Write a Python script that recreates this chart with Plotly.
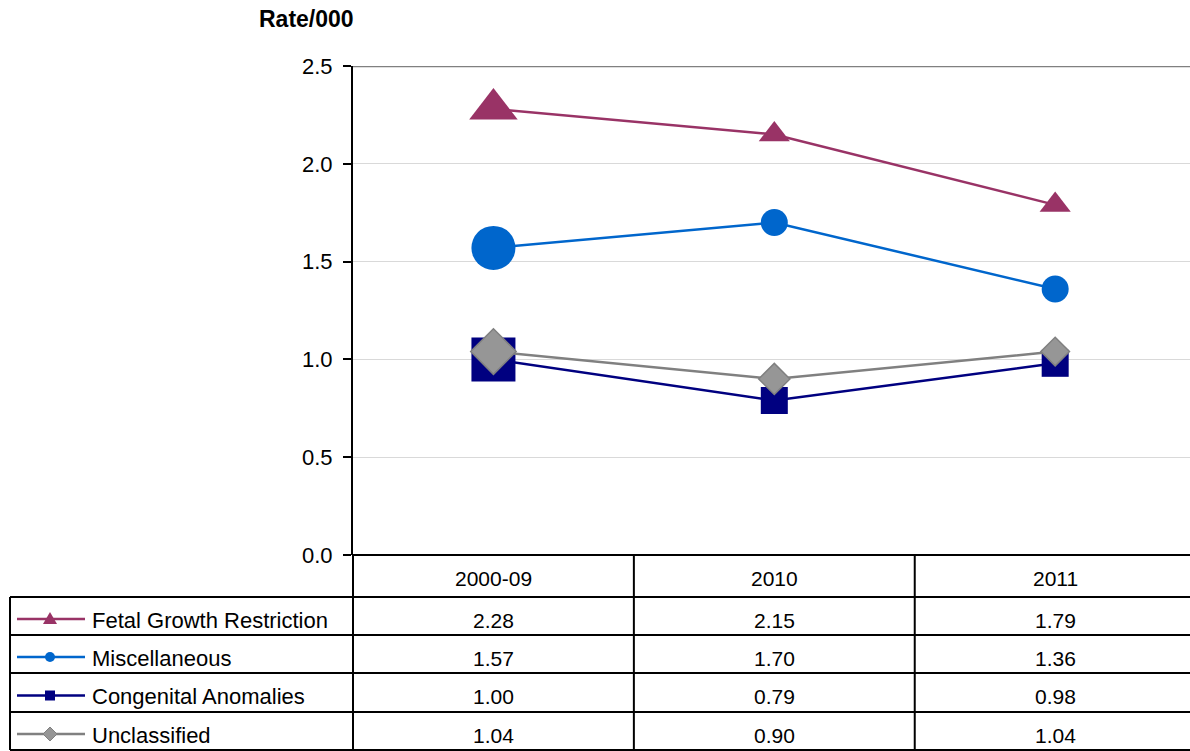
import plotly.graph_objects as go

categories = ["2000-09", "2010", "2011"]
series_names = ["Fetal Growth Restriction", "Miscellaneous", "Congenital Anomalies", "Unclassified"]
fgr = [2.28, 2.15, 1.79]
misc = [1.57, 1.70, 1.36]
cong = [1.00, 0.79, 0.98]
uncl = [1.04, 0.90, 1.04]
series_values = [fgr, misc, cong, uncl]

W, H = 1190, 751
L, T, B_PX = 353, 66, 555
plot_w = W - L
plot_h = B_PX - T

def px(xp):
    return (xp - L) / plot_w

def py(yp):
    return (B_PX - yp) / plot_h

FONT = "Liberation Sans, Arial, sans-serif"

styles = [
    dict(color="#993366", symbol="triangle-up", sizes=[42, 27, 27], lc="#993366"),
    dict(color="#0066CC", symbol="circle", sizes=[44, 27, 27], lc="#0066CC"),
    dict(color="#000080", symbol="square", sizes=[44, 27, 27], lc="#000080"),
    dict(color="#969696", symbol="diamond", sizes=[35, 24, 22], lc="#808080"),
]

xs = list(range(len(categories)))
fig = go.Figure()
for name, vals, st in zip(series_names, series_values, styles):
    fig.add_trace(go.Scatter(
        x=xs, y=vals, name=name, mode="lines+markers",
        line=dict(color=st["lc"], width=2.5),
        marker=dict(symbol=st["symbol"], size=st["sizes"], color=st["color"], opacity=1,
                    line=dict(color=st["lc"], width=1.5 if st["symbol"] == "diamond" else 0)),
        cliponaxis=False, showlegend=False,
    ))

shapes = []
annotations = []

shapes.append(dict(type="line", xref="paper", yref="y", x0=0, x1=1.01, y0=2.5, y1=2.5,
                   line=dict(color="#808080", width=2.5)))

row_edges = [555, 597, 635, 673, 712, 750]
left_px = 10
blk = dict(color="black", width=2)
shapes.append(dict(type="line", xref="paper", yref="paper", x0=0, x1=1.01,
                   y0=py(555), y1=py(555), line=blk))
for yp in row_edges[1:]:
    shapes.append(dict(type="line", xref="paper", yref="paper", x0=px(left_px), x1=1.01,
                       y0=py(yp), y1=py(yp), line=blk))
shapes.append(dict(type="line", xref="paper", yref="paper", x0=px(left_px), x1=px(left_px),
                   y0=py(597), y1=py(750), line=blk))
for xb in [0.5, 1.5]:
    shapes.append(dict(type="line", xref="x", yref="paper", x0=xb, x1=xb,
                       y0=py(555), y1=py(750), line=blk))
shapes.append(dict(type="line", xref="paper", yref="paper", x0=0, x1=0,
                   y0=py(555), y1=py(750), line=blk))

for i, c in enumerate(categories):
    annotations.append(dict(x=i, y=py((555 + 597) / 2 + 2), xref="x", yref="paper", text=c,
                            showarrow=False, font=dict(family=FONT, size=21, color="black"),
                            xanchor="center", yanchor="middle"))

for r, (name, vals, st) in enumerate(zip(series_names, series_values, styles)):
    yc_px = (row_edges[r + 1] + row_edges[r + 2]) / 2 + 4
    yc = py(yc_px)
    for i, v in enumerate(vals):
        annotations.append(dict(x=i, y=yc, xref="x", yref="paper", text=f"{v:.2f}",
                                showarrow=False, font=dict(family=FONT, size=21, color="black"),
                                xanchor="center", yanchor="middle"))
    annotations.append(dict(x=px(90), y=yc, xref="paper", yref="paper", text=name,
                            showarrow=False, font=dict(family=FONT, size=22, color="black"),
                            xanchor="left", yanchor="middle"))
    kc = py(yc_px - 1)
    shapes.append(dict(type="line", xref="paper", yref="paper", x0=px(17), x1=px(85),
                       y0=kc, y1=kc, line=dict(color=st["lc"], width=2.5)))
    cx = 50
    ky = yc_px - 1
    if st["symbol"] == "triangle-up":
        path = (f"M {px(cx - 7)} {py(ky + 5)} L {px(cx + 7)} {py(ky + 5)} "
                f"L {px(cx)} {py(ky - 7)} Z")
        shapes.append(dict(type="path", xref="paper", yref="paper", path=path,
                           fillcolor=st["color"], line=dict(width=0)))
    elif st["symbol"] == "circle":
        shapes.append(dict(type="circle", xref="paper", yref="paper",
                           x0=px(cx - 5), x1=px(cx + 5), y0=py(ky + 5), y1=py(ky - 5),
                           fillcolor=st["color"], line=dict(width=0)))
    elif st["symbol"] == "square":
        shapes.append(dict(type="rect", xref="paper", yref="paper",
                           x0=px(cx - 5), x1=px(cx + 5), y0=py(ky + 5), y1=py(ky - 5),
                           fillcolor=st["color"], line=dict(width=0)))
    else:
        path = (f"M {px(cx - 7)} {py(ky)} L {px(cx)} {py(ky - 7)} "
                f"L {px(cx + 7)} {py(ky)} L {px(cx)} {py(ky + 7)} Z")
        shapes.append(dict(type="path", xref="paper", yref="paper", path=path,
                           fillcolor=st["color"], line=dict(color=st["lc"], width=1)))

annotations.append(dict(x=px(306), y=py(19), xref="paper", yref="paper", text="<b>Rate/000</b>",
                        showarrow=False, font=dict(family=FONT, size=23, color="black"),
                        xanchor="center", yanchor="middle"))

fig.update_layout(
    width=W, height=H,
    margin=dict(l=L, r=0, t=T, b=H - B_PX, pad=0),
    plot_bgcolor="white", paper_bgcolor="white",
    shapes=shapes, annotations=annotations,
    xaxis=dict(range=[-0.5, 2.48], showticklabels=False, showgrid=False, zeroline=False,
               showline=False, ticks="", fixedrange=True),
    yaxis=dict(range=[0, 2.5], dtick=0.5, tickformat=".1f", showgrid=True, gridcolor="#d9d9d9",
               gridwidth=1, zeroline=False, showline=True, linecolor="black", linewidth=2,
               ticks="outside", ticklen=8, tickwidth=2, tickcolor="black", ticklabelstandoff=6,
               tickfont=dict(family=FONT, size=22, color="black"), fixedrange=True),
)

fig.write_html("out.html", post_script="document.body.style.margin='0px';",
               config={"displayModeBar": False})
